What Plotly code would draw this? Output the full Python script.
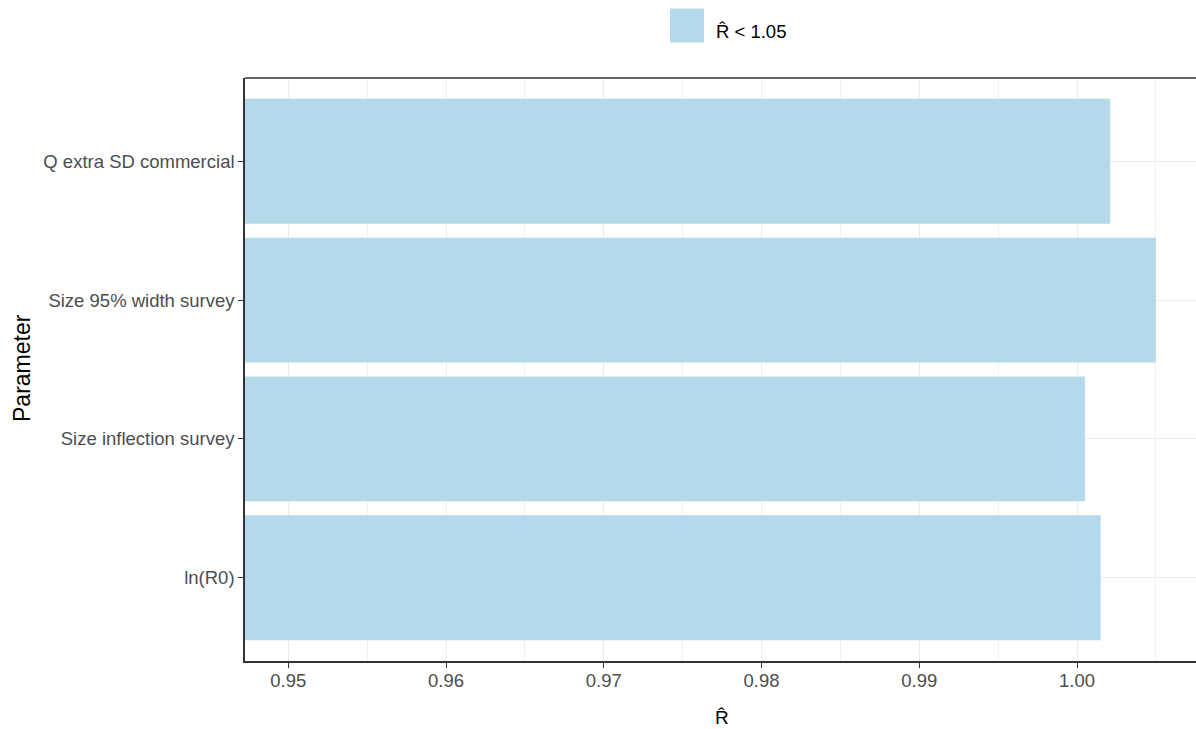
import plotly.graph_objects as go

categories = ["ln(R0)", "Size inflection survey", "Size 95% width survey", "Q extra SD commercial"]
rhat_values = [1.0015, 1.0005, 1.0050, 1.0021]
legend_label = "R\u0302 < 1.05"
x_title = "R\u0302"
y_title = "Parameter"
x_ticks = [0.95, 0.96, 0.97, 0.98, 0.99, 1.00]
x_tick_labels = ["0.95", "0.96", "0.97", "0.98", "0.99", "1.00"]

BAR = "#b4d9ea"
FONT = "Liberation Sans, Arial, sans-serif"

L, T, B = 245, 78, 68
W, H = 1196, 729
PW, PH = W - L, H - T - B


def px(x):
    return (x - L) / PW


def py(y):
    return (H - B - y) / PH


fig = go.Figure()
fig.add_trace(go.Bar(
    y=categories, x=rhat_values, orientation="h", width=0.9,
    marker=dict(color=BAR, line=dict(width=0)), showlegend=False, base=0,
))

ann = [
    dict(xref="paper", yref="paper", x=px(714), y=py(31.5), xanchor="left", yanchor="middle",
         showarrow=False, text=legend_label, font=dict(size=18.5, color="black", family=FONT)),
    dict(xref="paper", yref="paper", x=px(722), y=py(717.5), xanchor="center", yanchor="middle",
         showarrow=False, text=x_title, font=dict(size=19, color="black", family=FONT)),
    dict(xref="paper", yref="paper", x=px(22), y=py(368), xanchor="center", yanchor="middle",
         showarrow=False, textangle=-90, text=y_title,
         font=dict(size=23, color="black", family=FONT)),
]

fig.update_layout(
    width=W, height=H,
    margin=dict(l=L, r=0, t=T, b=B, pad=0),
    paper_bgcolor="white", plot_bgcolor="white",
    font=dict(family=FONT),
    showlegend=False,
    xaxis=dict(
        range=[0.947256, 1.007541], tickvals=x_ticks, ticktext=x_tick_labels,
        showgrid=True, gridcolor="#ebebeb", gridwidth=1.2,
        minor=dict(dtick=0.005, tick0=0.945, showgrid=True, gridcolor="#f2f2f2", gridwidth=0.6, ticks=""),
        ticks="outside", ticklen=5, tickwidth=1.3, tickcolor="#333333",
        tickfont=dict(size=18.5, color="#4d4d4d", family=FONT),
        ticklabelstandoff=-3,
        showline=True, linecolor="#333333", linewidth=1.5,
        zeroline=False,
    ),
    yaxis=dict(
        range=[-0.6, 3.6], categoryorder="array", categoryarray=categories,
        showgrid=True, gridcolor="#ebebeb", gridwidth=1.2,
        ticks="outside", ticklen=5, tickwidth=1.3, tickcolor="#333333",
        tickfont=dict(size=18.5, color="#4d4d4d", family=FONT),
        showline=True, linecolor="#333333", linewidth=1.5,
        zeroline=False,
    ),
    shapes=[
        dict(type="line", xref="paper", yref="paper", x0=0, x1=1, y0=1, y1=1,
             line=dict(color="#333333", width=1.5)),
        dict(type="rect", xref="paper", yref="paper",
             x0=px(670), x1=px(704), y0=py(42.5), y1=py(8.5),
             fillcolor=BAR, line=dict(width=0)),
    ],
    annotations=ann,
)

fig.write_html(
    "out.html",
    config={"displayModeBar": False},
    post_script="document.body.style.margin='0';document.body.style.overflow='hidden';",
)
